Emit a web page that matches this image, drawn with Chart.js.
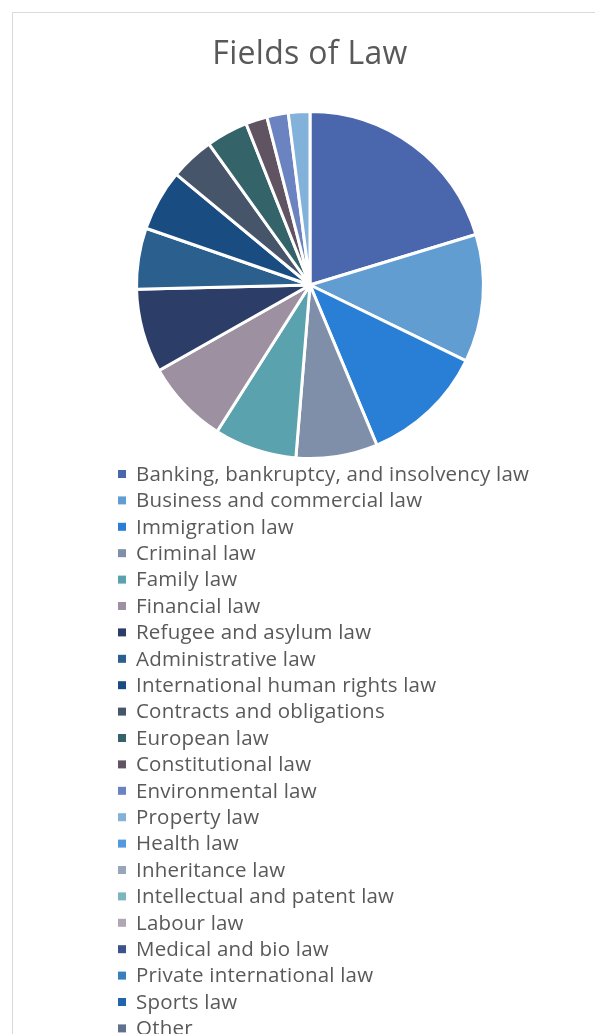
<!DOCTYPE html>
<html>
<head>
<meta charset="utf-8">
<title>Fields of Law</title>
<script src="https://cdn.jsdelivr.net/npm/chart.js@4.4.0/dist/chart.umd.min.js"></script>
<style>
  html, body { margin: 0; padding: 0; background: #fff; }
  #wrap { position: relative; width: 595px; height: 1034px; overflow: hidden; }
  #frame { position: absolute; left: 12px; top: 12px; width: 600px; height: 1100px;
           border-left: 1px solid #d9d9d9; border-top: 1px solid #d9d9d9; }
  canvas { position: absolute; left: 0; top: 0; letter-spacing: 0.3px; }
</style>
</head>
<body>
<div id="wrap">
  <div id="frame"></div>
  <canvas id="pie" width="595" height="1034"></canvas>
</div>
<script>
const fields = [
  "Banking, bankruptcy, and insolvency law",
  "Business and commercial law",
  "Immigration law",
  "Criminal law",
  "Family law",
  "Financial law",
  "Refugee and asylum law",
  "Administrative law",
  "International human rights law",
  "Contracts and obligations",
  "European law",
  "Constitutional law",
  "Environmental law",
  "Property law",
  "Health law",
  "Inheritance law",
  "Intellectual and patent law",
  "Labour law",
  "Medical and bio law",
  "Private international law",
  "Sports law",
  "Other"
];

// share of answers per field, in percent
const shares = [
  20.3, 11.9, 11.5, 7.6, 7.7, 7.8, 7.8, 5.7, 5.7, 4.1, 3.9,
  2.0, 2.0, 2.0, 0, 0, 0, 0, 0, 0, 0, 0
];

const sliceColors = [
  "#4A66AC", "#629DD1", "#297FD5", "#7F8FA9", "#5AA2AE", "#9D90A0",
  "#2C3D67", "#2A5F8E", "#194C80", "#47556A", "#34636A", "#605462",
  "#6B83C0", "#82B1DA", "#5399DE", "#99A5BA", "#7BB5BE", "#B1A6B3",
  "#3B528A", "#387FBE", "#2166AA", "#5F718E"
];

const textColor = "#595959";
const fontFamily = "'Open Sans', 'Noto Sans', sans-serif";

// one legend entry per row, under the pie
const columnLegend = {
  id: "columnLegend",
  afterDraw(chart) {
    const ctx = chart.ctx;
    const rowH = 26.4;
    const top = chart.chartArea.bottom + 14;
    ctx.save();
    ctx.font = "20.5px " + fontFamily;
    ctx.letterSpacing = "0.2px";
    ctx.textBaseline = "middle";
    ctx.textAlign = "left";
    chart.data.labels.forEach((label, i) => {
      const y = top + i * rowH;
      ctx.fillStyle = chart.data.datasets[0].backgroundColor[i];
      ctx.fillRect(118, y - 4, 8, 8);
      ctx.fillStyle = textColor;
      ctx.fillText(label, 136, y + 1);
    });
    ctx.restore();
  }
};

const pie = new Chart(document.getElementById("pie").getContext("2d"), {
  type: "pie",
  data: {
    labels: fields,
    datasets: [{
      data: shares,
      backgroundColor: sliceColors,
      borderColor: "#ffffff",
      borderWidth: 3
    }]
  },
  options: {
    responsive: false,
    animation: false,
    layout: {
      padding: { top: 16, left: 135, right: 110, bottom: 574 }
    },
    plugins: {
      legend: { display: false },
      tooltip: { enabled: false },
      title: {
        display: true,
        text: "Fields of Law",
        color: textColor,
        font: { family: fontFamily, size: 32, weight: "normal", lineHeight: 1.2 },
        padding: { top: 20, bottom: 35.6 }
      }
    }
  },
  plugins: [columnLegend]
});
</script>
</body>
</html>
